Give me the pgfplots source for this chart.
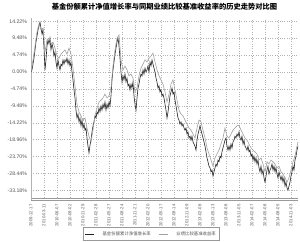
\documentclass[border=0pt]{standalone}
\usepackage{fontspec}
\setmainfont{Liberation Sans}
\newfontfamily\cjk{Noto Sans CJK SC}
\usepackage{pgfplots}
\pgfplotsset{compat=1.18}
\usetikzlibrary{calc}
\definecolor{fundc}{HTML}{222222}
\definecolor{benchc}{HTML}{A0A0A0}
\definecolor{txtc}{HTML}{555555}
\begin{document}
\begin{tikzpicture}
\begin{axis}[name=ax,
  at={(0,0)}, anchor=south west,
  scale only axis, width=267bp, height=181.5bp,
  xmin=0, xmax=267, ymin=-35.76, ymax=15.15,
  axis x line*=bottom, axis y line*=left,
  x axis line style={-, draw=gray!80, double distance=1.3pt, line width=0.4pt},
  y axis line style={-, draw=gray!60, line width=0.6pt},
  xtick={0,13,26,39,52,65,78,91,104,117,130,143,156,169,182,195,208,221,234,247,260},
  xticklabels={2009-12-17,2010-03-11,2010-06-07,2010-09-02,2010-11-29,2011-02-28,2011-05-27,2011-08-24,2011-11-21,2012-02-20,2012-05-17,2012-08-14,2012-11-09,2013-02-08,2013-05-13,2013-08-08,2013-11-05,2014-02-07,2014-05-08,2014-08-05,2014-11-03},
  ytick={14.22,9.48,4.74,0,-4.74,-9.48,-14.22,-18.96,-23.70,-28.44,-33.18},
  yticklabels={14.22\%,9.48\%,4.74\%,0.00\%,-4.74\%,-9.48\%,-14.22\%,-18.96\%,-23.70\%,-28.44\%,-33.18\%},
  major tick length=0pt,
  grid=major,
  major grid style={dotted, draw=gray!60, line width=0.4pt},
  yticklabel style={font=\fontsize{5.2}{6}\selectfont, text=txtc, xshift=-0.5pt},
  xticklabel style={font=\fontsize{4.3}{5}\selectfont, text=txtc, rotate=90, anchor=east, xshift=-1.5pt},
  title={\cjk\bfseries 基金份额累计净值增长率与同期业绩比较基准收益率的历史走势对比图},
  title style={font=\fontsize{7.3}{8}\selectfont, text=black, yshift=-2pt},
  legend style={at={(0.451,-0.19)}, anchor=center, draw=gray!80, line width=0.4pt,
    font=\cjk\fontsize{4.4}{5}\selectfont, text=txtc, legend columns=2,
    inner sep=1.8pt, column sep=6pt},
  legend image code/.code={\draw[#1] (0cm,0cm) -- (0.32cm,0cm);},
]
\addplot[color=fundc, line width=0.6pt] coordinates {
(0,0) (1,0.6) (2,2.2) (3,3.9) (4,6.2) (5,8.4) (6,10.1) (7,11.8) (8,12.9) (9,14.0)
(10,12.3) (11,10.7) (12,11.8) (13,6.7) (14,0.6) (15,3.4) (16,7.3) (17,9.0) (18,7.9) (19,9.5)
(20,6.2) (21,7.9) (22,6.7) (23,4.5) (24,5.6) (25,2.8) (26,1.1) (27,3.4) (28,1.7) (29,0.6)
(30,2.2) (31,1.7) (32,3.4) (33,2.2) (34,3.4) (35,2.8) (36,3.9) (37,2.2) (38,3.4) (39,1.7)
(40,2.8) (41,0) (42,-2.2) (43,-5.0) (44,-7.3) (45,-10.7) (46,-12.9) (47,-11.8) (48,-14.0) (49,-12.9)
(50,-15.1) (51,-13.5) (52,-15.7) (53,-14.6) (54,-16.3) (55,-15.7) (56,-18.5) (57,-20.8) (58,-22.7) (59,-20.5)
(60,-19.1) (61,-16.8) (62,-15.1) (63,-14.0) (64,-12.3) (65,-12.9) (66,-11.2) (67,-11.8) (68,-10.1) (69,-11.2)
(70,-9.5) (71,-10.7) (72,-9.0) (73,-10.1) (74,-8.4) (75,-10.7) (76,-9.0) (77,-10.1) (78,-8.4) (79,-9.5)
(80,-6.7) (81,-2.2) (82,0.6) (83,2.8) (84,5.0) (85,6.7) (86,8.4) (87,9.5) (88,7.3) (89,3.9)
(90,0) (91,-2.8) (92,-1.1) (93,-2.2) (94,-0.6) (95,-2.8) (96,-1.7) (97,-3.9) (98,-3.4) (99,-5.0)
(100,-3.4) (101,-4.5) (102,-2.8) (103,-6.7) (104,-9.0) (105,-10.7) (106,-7.3) (107,-4.5) (108,-3.4) (109,-1.7)
(110,-0.6) (111,-1.1) (112,0.6) (113,-0.6) (114,1.1) (115,0) (116,0.6) (117,1.7) (118,0) (119,2.8)
(120,1.7) (121,3.4) (122,2.2) (123,1.1) (124,0) (125,-1.7) (126,-2.8) (127,-4.5) (128,-3.9) (129,-5.6)
(130,-5.0) (131,-6.7) (132,-6.2) (133,-7.3) (134,-9.0) (135,-10.7) (136,-12.9) (137,-11.2) (138,-9.0) (139,-6.7)
(140,-5.6) (141,-4.5) (142,-6.2) (143,-5.6) (144,-7.9) (145,-9.5) (146,-11.2) (147,-12.9) (148,-13.5) (149,-14.6)
(150,-14.0) (151,-15.1) (152,-14.6) (153,-15.7) (154,-16.3) (155,-15.7) (156,-17.4) (157,-16.8) (158,-18.5) (159,-18.0)
(160,-19.1) (161,-18.0) (162,-19.6) (163,-20.2) (164,-20.8) (165,-21.9) (166,-19.1) (167,-17.4) (168,-16.3) (169,-15.1)
(170,-16.3) (171,-17.4) (172,-18.5) (173,-19.6) (174,-20.8) (175,-22.4) (176,-24.1) (177,-25.2) (178,-26.4) (179,-26.9)
(180,-28.0) (181,-27.5) (182,-29.2) (183,-28.0) (184,-26.9) (185,-25.8) (186,-26.4) (187,-24.7) (188,-25.2) (189,-23.6)
(190,-24.1) (191,-22.4) (192,-21.3) (193,-20.2) (194,-19.1) (195,-18.5) (196,-20.8) (197,-21.9) (198,-20.8) (199,-21.9)
(200,-20.2) (201,-21.3) (202,-19.6) (203,-19.1) (204,-18.0) (205,-18.5) (206,-17.4) (207,-18.0) (208,-16.8) (209,-18.5)
(210,-19.1) (211,-18.0) (212,-20.2) (213,-19.1) (214,-20.8) (215,-21.3) (216,-21.9) (217,-20.8) (218,-22.4) (219,-21.9)
(220,-23.6) (221,-23.0) (222,-24.7) (223,-23.6) (224,-25.2) (225,-24.1) (226,-25.8) (227,-24.7) (228,-26.9) (229,-28.0)
(230,-26.4) (231,-28.6) (232,-27.5) (233,-29.7) (234,-30.9) (235,-29.2) (236,-27.5) (237,-26.4) (238,-28.6) (239,-27.5)
(240,-26.9) (241,-25.8) (242,-27.5) (243,-26.4) (244,-28.0) (245,-26.9) (246,-28.6) (247,-29.7) (248,-28.0) (249,-29.2)
(250,-30.3) (251,-29.2) (252,-30.9) (253,-29.7) (254,-32.0) (255,-30.9) (256,-32.5) (257,-33.1) (258,-32.0) (259,-30.9)
(260,-29.2) (261,-28.0) (262,-26.4) (263,-27.5) (264,-24.7) (265,-23.6) (266,-21.9) (267,-20.8)
};
\addlegendentry{基金份额累计净值增长率}
\addplot[color=benchc, line width=0.6pt] coordinates {
(0,0) (2,3.4) (4,7.3) (6,11.2) (8,13.5) (10,11.8) (12,12.3) (14,5.6) (16,9.0) (18,9.5)
(20,7.9) (22,8.4) (24,6.7) (26,4.5) (28,3.9) (30,5.0) (32,5.6) (34,6.2) (36,5.0) (38,6.7)
(40,5.0) (42,1.1) (44,-3.9) (46,-9.0) (48,-11.2) (50,-12.3) (52,-13.5) (54,-12.9) (56,-15.7) (58,-18.0)
(60,-19.6) (62,-16.3) (64,-12.3) (66,-10.1) (68,-8.4) (70,-7.9) (72,-7.3) (74,-6.2) (76,-7.3) (78,-6.7)
(80,-4.5) (82,1.7) (84,6.2) (86,9.5) (88,10.4) (90,3.4) (92,0.6) (94,1.7) (96,0.6) (98,-1.1)
(100,-0.6) (102,-1.7) (104,-5.6) (106,-4.5) (108,-1.1) (110,1.1) (112,2.2) (114,3.4) (116,2.8) (118,3.9)
(120,4.5) (122,5.3) (124,2.8) (126,0.6) (128,-1.1) (130,-2.2) (132,-3.4) (134,-5.6) (136,-8.4) (138,-6.2)
(140,-3.4) (142,-2.2) (144,-5.0) (146,-7.9) (148,-10.7) (150,-11.8) (152,-12.3) (154,-13.5) (156,-14.6) (158,-15.7)
(160,-16.3) (162,-17.4) (164,-18.5) (166,-15.7) (168,-13.5) (170,-14.0) (172,-16.3) (174,-18.5) (176,-21.3) (178,-23.0)
(180,-24.7) (182,-26.4) (184,-24.1) (186,-23.0) (188,-21.9) (190,-20.2) (192,-18.5) (194,-15.7) (196,-18.0) (198,-18.5)
(200,-17.4) (202,-16.3) (204,-15.7) (206,-15.1) (208,-14.9) (210,-16.3) (212,-17.4) (214,-18.5) (216,-19.1) (218,-20.2)
(220,-21.3) (222,-21.9) (224,-22.4) (226,-23.0) (228,-24.7) (230,-24.1) (232,-25.8) (234,-28.0) (236,-25.2) (238,-25.8)
(240,-24.7) (242,-25.2) (244,-25.8) (246,-26.9) (248,-26.4) (250,-28.0) (252,-28.6) (254,-29.7) (256,-30.9) (258,-29.7)
(260,-27.5) (262,-25.2) (264,-23.6) (266,-20.8) (267,-19.6)
};
\addlegendentry{业绩比较基准收益率}
\end{axis}
\path[use as bounding box] ($(ax.south west)+(-31bp,-42.5bp)$) rectangle ++(300bp,242bp);
\end{tikzpicture}
\end{document}
